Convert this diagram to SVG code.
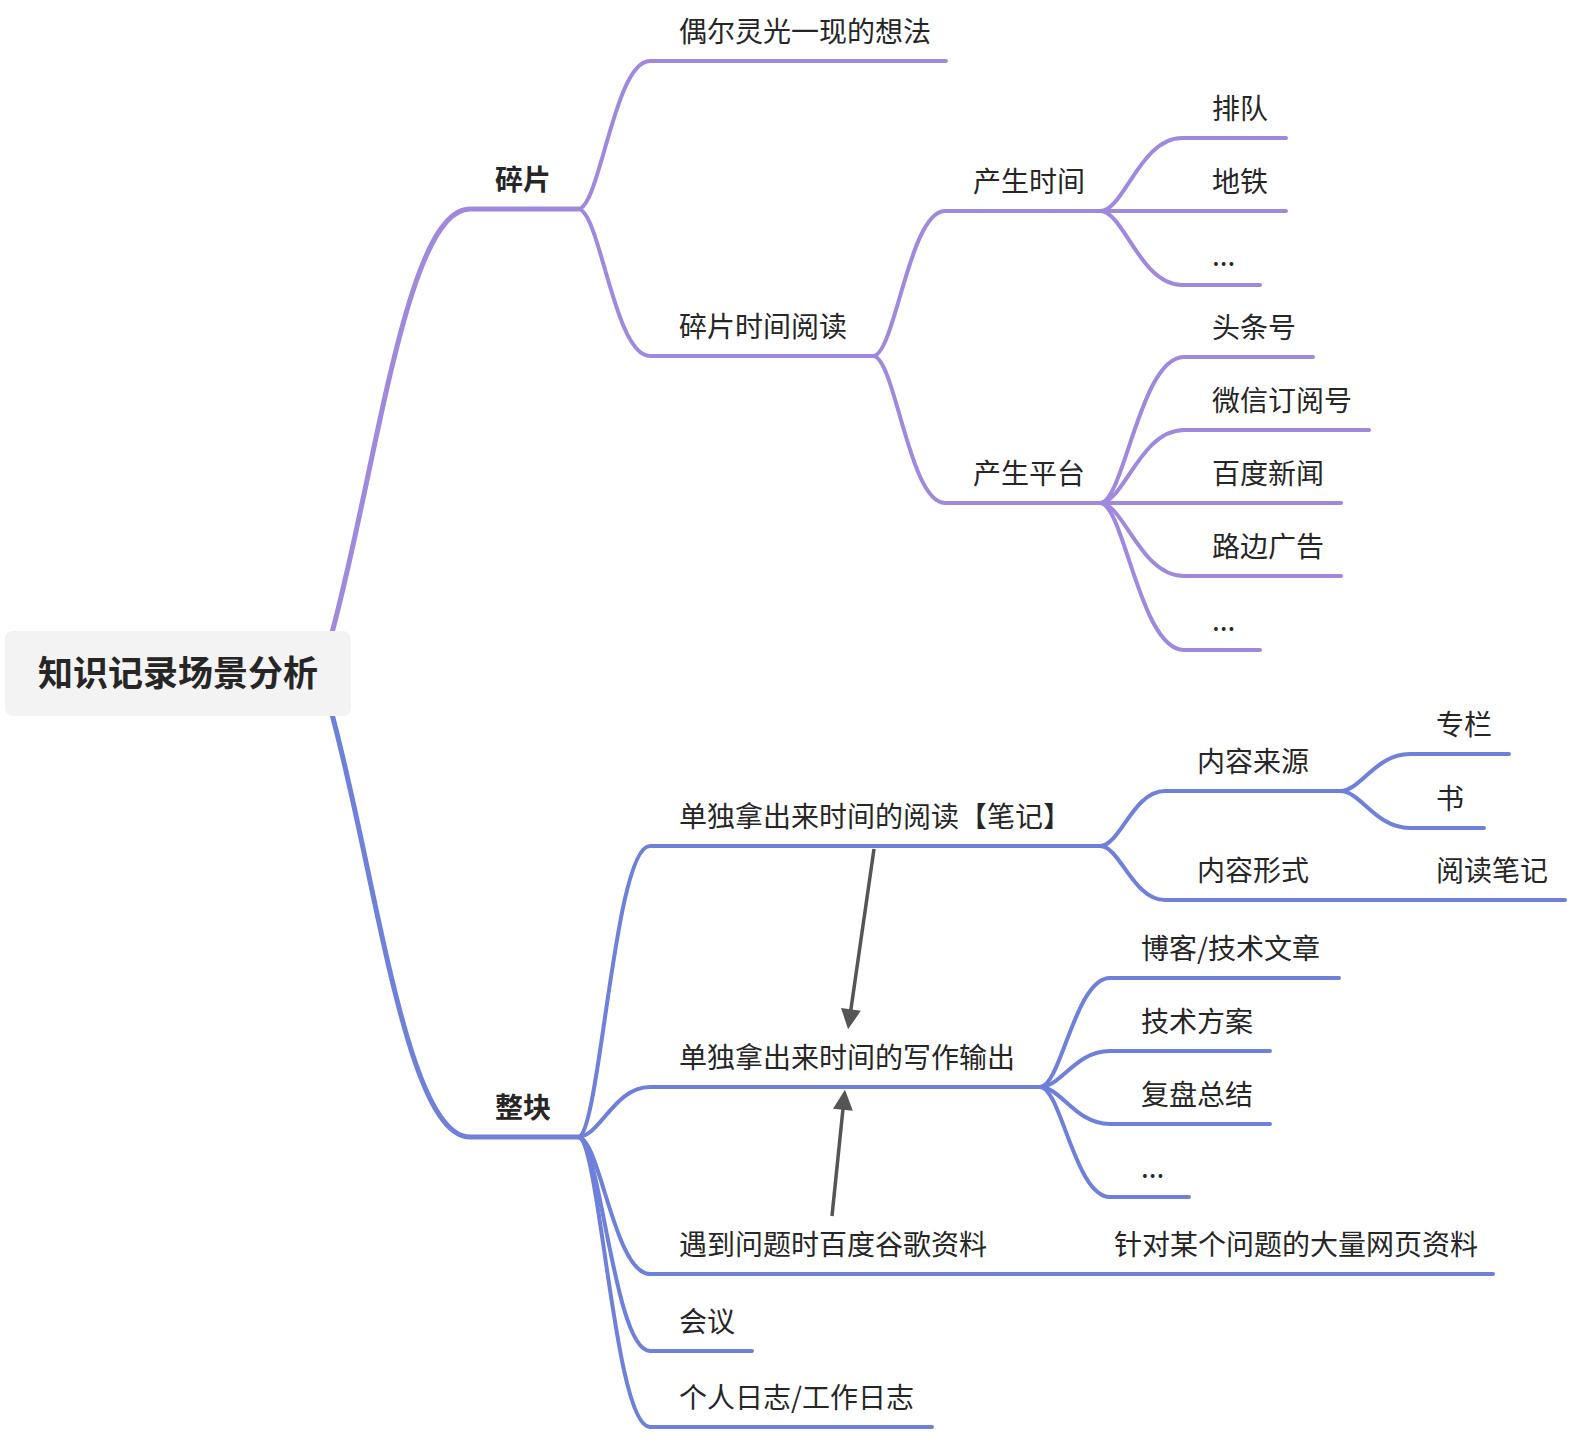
<svg xmlns="http://www.w3.org/2000/svg" width="1578" height="1442" viewBox="0 0 1578 1442">
<style>
.t{font-family:"Noto Sans CJK SC","Noto Sans",sans-serif;font-size:28px;fill:#262626}
.b{font-weight:bold}
.r{font-family:"Noto Sans CJK SC","Noto Sans",sans-serif;font-size:35px;font-weight:bold;fill:#262626}
.p{fill:none;stroke:#a088de;stroke-width:4;stroke-linecap:round}
.u{fill:none;stroke:#6e80d9;stroke-width:4;stroke-linecap:round}
.w{stroke-width:5}
.a{fill:none;stroke:#555;stroke-width:3.5}
</style>
<defs>
<marker id="ah" viewBox="0 0 10 10" refX="6.4" refY="5" markerWidth="22" markerHeight="20" markerUnits="userSpaceOnUse" orient="auto">
<path d="M0,0 L10,5 L0,10 z" fill="#555"/>
</marker>
</defs>
<rect width="1578" height="1442" fill="#fff"/>
<g id="connectors">
<path class="p w" d="M330,640 C375,480 405,209 470,209 L578,209"/>
<path class="u w" d="M330,707 C375,867 405,1137 470,1137 L578,1137"/>
<path class="p" d="M578,209 C600,209 614,61 650,61 L946,61"/>
<path class="p" d="M578,209 C600,209 614,356 650,356 L873,356"/>
<path class="p" d="M873,356 C895,356 909,211 945,211 L1100,211"/>
<path class="p" d="M873,356 C895,356 909,503 945,503 L1100,503"/>
<path class="p" d="M1100,211 C1124,211 1140,138 1182,138 L1286,138"/>
<path class="p" d="M1100,211 L1286,211"/>
<path class="p" d="M1100,211 C1124,211 1140,285 1182,285 L1260,285"/>
<path class="p" d="M1100,503 C1124,503 1140,357 1184,357 L1313,357"/>
<path class="p" d="M1100,503 C1124,503 1140,430 1184,430 L1369,430"/>
<path class="p" d="M1100,503 L1341,503"/>
<path class="p" d="M1100,503 C1124,503 1140,576 1184,576 L1341,576"/>
<path class="p" d="M1100,503 C1124,503 1140,650 1184,650 L1260,650"/>
<path class="u" d="M578,1137 C600,1137 614,846 650,846 L1100,846"/>
<path class="u" d="M578,1137 C600,1137 614,1087 650,1087 L1040,1087"/>
<path class="u" d="M578,1137 C600,1137 614,1274 650,1274 L1090,1274"/>
<path class="u" d="M578,1137 C600,1137 614,1351 650,1351 L752,1351"/>
<path class="u" d="M578,1137 C600,1137 614,1427 650,1427 L932,1427"/>
<path class="u" d="M1090,1274 L1493,1274"/>
<path class="u" d="M1100,846 C1120,846 1133,791 1165,791 L1340,791"/>
<path class="u" d="M1100,846 C1120,846 1133,900 1165,900 L1410,900"/>
<path class="u" d="M1410,900 L1565,900"/>
<path class="u" d="M1340,791 C1361,791 1375,754 1410,754 L1509,754"/>
<path class="u" d="M1340,791 C1361,791 1375,828 1410,828 L1484,828"/>
<path class="u" d="M1040,1087 C1061,1087 1075,978 1110,978 L1339,978"/>
<path class="u" d="M1040,1087 C1061,1087 1075,1051 1110,1051 L1270,1051"/>
<path class="u" d="M1040,1087 C1061,1087 1075,1124 1110,1124 L1270,1124"/>
<path class="u" d="M1040,1087 C1061,1087 1075,1197 1110,1197 L1189,1197"/>
<path class="a" d="M874,849 L849.1,1022.1" marker-end="url(#ah)"/>
<path class="a" d="M832,1216 L844.2,1097" marker-end="url(#ah)"/>
</g>
<g id="root"><rect x="5" y="631" width="346" height="85" rx="8" fill="#f3f3f3"/><text class="r" x="178" y="686" text-anchor="middle">知识记录场景分析</text></g>
<g id="n-suipian"><text class="t b" x="495" y="190">碎片</text></g>
<g id="n-zhengkuai"><text class="t b" x="495" y="1118">整块</text></g>
<g id="n-ouer"><text class="t" x="679" y="42">偶尔灵光一现的想法</text></g>
<g id="n-suipianyuedu"><text class="t" x="679" y="337">碎片时间阅读</text></g>
<g id="n-shijian"><text class="t" x="973" y="192">产生时间</text></g>
<g id="n-pingtai"><text class="t" x="973" y="484">产生平台</text></g>
<g id="n-paidui"><text class="t" x="1212" y="119">排队</text></g>
<g id="n-ditie"><text class="t" x="1212" y="192">地铁</text></g>
<g id="n-etc1"><text class="t" x="1212" y="266">...</text></g>
<g id="n-toutiao"><text class="t" x="1212" y="338">头条号</text></g>
<g id="n-weixin"><text class="t" x="1212" y="411">微信订阅号</text></g>
<g id="n-baidu"><text class="t" x="1212" y="484">百度新闻</text></g>
<g id="n-lubian"><text class="t" x="1212" y="557">路边广告</text></g>
<g id="n-etc2"><text class="t" x="1212" y="631">...</text></g>
<g id="n-yuedu"><text class="t" x="679" y="827">单独拿出来时间的阅读【笔记】</text></g>
<g id="n-laiyuan"><text class="t" x="1197" y="772">内容来源</text></g>
<g id="n-xingshi"><text class="t" x="1197" y="881">内容形式</text></g>
<g id="n-biji"><text class="t" x="1436" y="881">阅读笔记</text></g>
<g id="n-zhuanlan"><text class="t" x="1436" y="735">专栏</text></g>
<g id="n-shu"><text class="t" x="1436" y="809">书</text></g>
<g id="n-xiezuo"><text class="t" x="679" y="1068">单独拿出来时间的写作输出</text></g>
<g id="n-boke"><text class="t" x="1141" y="959">博客/技术文章</text></g>
<g id="n-fangan"><text class="t" x="1141" y="1032">技术方案</text></g>
<g id="n-fupan"><text class="t" x="1141" y="1105">复盘总结</text></g>
<g id="n-etc3"><text class="t" x="1141" y="1178">...</text></g>
<g id="n-wenti"><text class="t" x="679" y="1255">遇到问题时百度谷歌资料</text></g>
<g id="n-wangye"><text class="t" x="1114" y="1255">针对某个问题的大量网页资料</text></g>
<g id="n-huiyi"><text class="t" x="679" y="1332">会议</text></g>
<g id="n-rizhi"><text class="t" x="679" y="1408">个人日志/工作日志</text></g>
</svg>
